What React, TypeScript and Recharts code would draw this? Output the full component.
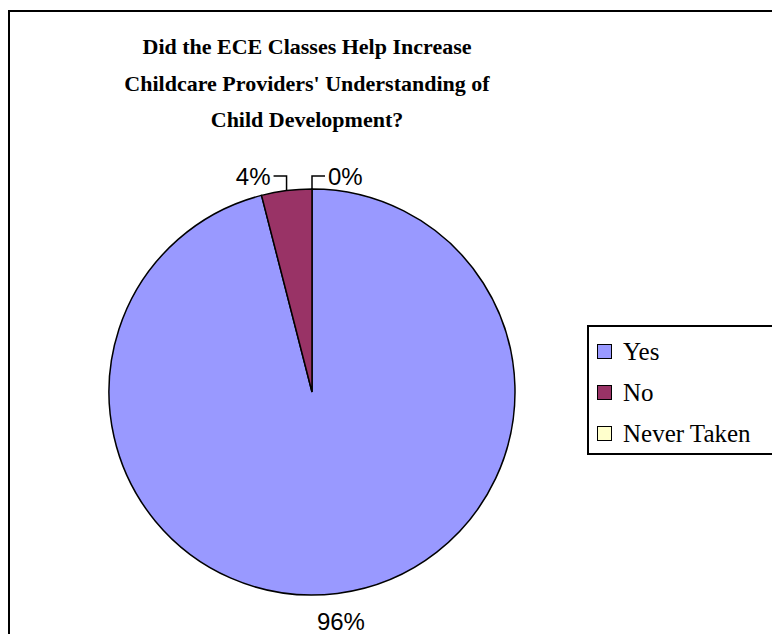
import React from "react";
import { PieChart, Pie, Cell, Legend } from "recharts";

const categories = ["Yes", "No", "Never Taken"];
const values = [96, 4, 0];
const colors = ["#9999FF", "#993366", "#FFFFCC"];
const titleLines = [
  "Did the ECE Classes Help Increase",
  "Childcare Providers' Understanding of",
  "Child Development?",
];

const data = categories.map((name, i) => ({ name, value: values[i] }));
const RAD = Math.PI / 180;

const renderLabel = (props: any) => {
  const { cx, cy, midAngle, outerRadius, percent, index } = props;
  const pct = Math.round((percent || 0) * 100) + "%";
  const cos = Math.cos(-midAngle * RAD);
  const sin = Math.sin(-midAngle * RAD);
  if (index === 0) {
    const x = cx + (outerRadius + 28) * cos;
    const y = cy + (outerRadius + 28) * sin;
    return (
      <text x={x} y={y} textAnchor="middle" dominantBaseline="central"
        fontFamily="'Liberation Sans', Arial, sans-serif" fontSize={24} fill="#000">
        {pct}
      </text>
    );
  }
  const px = cx + outerRadius * cos;
  const py = cy + outerRadius * sin;
  const ly = cy - outerRadius - 13;
  const dir = px < cx - 1 ? -1 : 1;
  return (
    <g>
      <polyline points={`${px},${py} ${px},${ly} ${px + dir * 13},${ly}`}
        fill="none" stroke="#000" strokeWidth={1.5} />
      <text x={px + dir * 16} y={ly} textAnchor={dir < 0 ? "end" : "start"}
        dominantBaseline="central"
        fontFamily="'Liberation Sans', Arial, sans-serif" fontSize={24} fill="#000">
        {pct}
      </text>
    </g>
  );
};

const renderLegend = (props: any) => {
  const payload: any[] = props.payload || [];
  const ordered = categories
    .map((c) => payload.find((p: any) => p.value === c))
    .filter(Boolean);
  return (
    <div style={{
      width: 187, height: 130, boxSizing: "border-box", border: "2px solid #000",
      background: "#fff", fontFamily: "'Liberation Serif', 'Times New Roman', serif",
      fontSize: 25, paddingTop: 4,
    }}>
      {ordered.map((entry: any, i: number) => (
        <div key={i} style={{ display: "flex", alignItems: "center", height: 41, paddingLeft: 8 }}>
          <span style={{
            display: "inline-block", width: 13, height: 13, background: entry.color,
            border: "1.5px solid #000", marginRight: 11,
          }} />
          <span style={{ lineHeight: "41px" }}>{entry.value}</span>
        </div>
      ))}
    </div>
  );
};

export default function App() {
  return (
    <div style={{ position: "relative", width: 772, height: 626, overflow: "hidden" }}>
      <style>{"html,body{overflow:hidden}"}</style>
      <div style={{
        position: "absolute", left: 0, top: 2, width: 900, height: 900,
        borderTop: "2px solid #000", borderLeft: "2px solid #000",
      }} />
      <div style={{
        position: "absolute", left: 49, width: 500, top: 21, textAlign: "center",
        fontFamily: "'Liberation Serif', 'Times New Roman', serif", fontWeight: "bold",
        fontSize: 22, lineHeight: "36.5px", color: "#000",
      }}>
        {titleLines.map((t, i) => <div key={i}>{t}</div>)}
      </div>
      <div style={{ position: "absolute", left: 0, top: 0 }}>
        <PieChart width={772} height={626}>
          <Pie data={data} dataKey="value" nameKey="name" cx={299} cy={379}
            outerRadius={203} startAngle={90} endAngle={-270}
            stroke="#000" strokeWidth={1.5} label={renderLabel} labelLine={false}
            isAnimationActive={false}>
            {data.map((d, i) => <Cell key={d.name} fill={colors[i]} />)}
          </Pie>
          <Legend content={renderLegend} layout="vertical"
            wrapperStyle={{ left: 579, top: 317, width: 187, height: 130 }} />
        </PieChart>
      </div>
    </div>
  );
}
